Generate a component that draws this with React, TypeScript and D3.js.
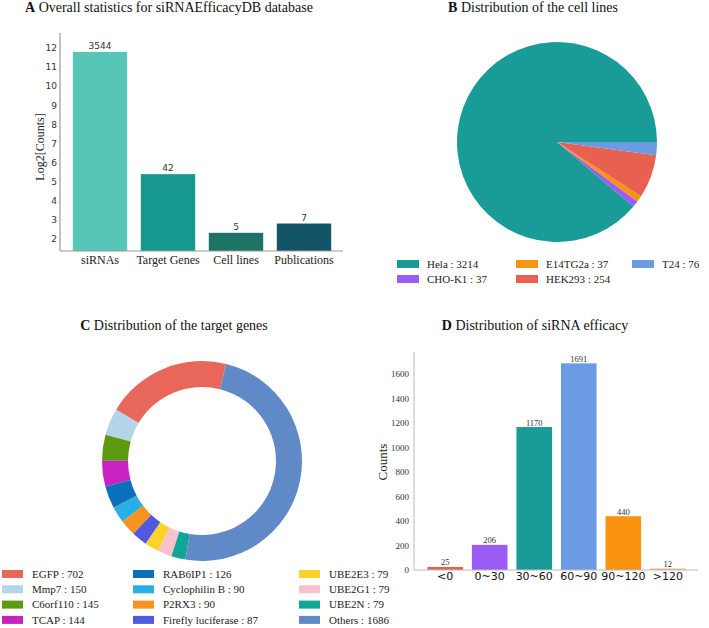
import React from 'react';
import * as d3 from 'd3';

// ---------- Data ----------
const statCategories = ['siRNAs', 'Target Genes', 'Cell lines', 'Publications'];
const statCounts = [3544, 42, 5, 7];
const statColors = ['#57c6b6', '#17998f', '#1d7365', '#145468'];
const statTicks = [2, 3, 4, 5, 6, 7, 8, 9, 10, 11, 12];

const cellLines = ['Hela', 'CHO-K1', 'E14TG2a', 'HEK293', 'T24'];
const cellCounts = [3214, 37, 37, 254, 76];
const cellColors = ['#199c98', '#9a5cf5', '#f99310', '#e8604f', '#6a9be3'];

const genes = ['EGFP', 'Mmp7', 'C6orf110', 'TCAP', 'RAB6IP1', 'Cyclophilin B', 'P2RX3', 'Firefly luciferase', 'UBE2E3', 'UBE2G1', 'UBE2N', 'Others'];
const geneCounts = [702, 150, 145, 144, 126, 90, 90, 87, 79, 79, 79, 1686];
const geneColors = ['#e8675a', '#b4d4e8', '#5c9a12', '#c822c0', '#0b6fbd', '#2aaee3', '#f7931e', '#5059e0', '#fdd22b', '#f8c2cc', '#10a596', '#6089c8'];

const efficacyBins = ['<0', '0~30', '30~60', '60~90', '90~120', '>120'];
const efficacyCounts = [25, 206, 1170, 1691, 440, 12];
const efficacyColors = ['#e8604f', '#9a5cf5', '#199c98', '#6a9be3', '#f99310', '#e8b56a'];
const efficacyTicks = [0, 200, 400, 600, 800, 1000, 1200, 1400, 1600];

const SERIF = '"Liberation Serif", "Times New Roman", serif';
const SANS = '"DejaVu Sans", sans-serif';

function Title({ x, y, letter, text, anchor = 'middle' }: any) {
  return (
    <text x={x} y={y} textAnchor={anchor} fontFamily={SERIF} fontSize={14} fill="#111">
      <tspan fontWeight="bold">{letter}</tspan> {text}
    </text>
  );
}

function PanelA() {
  const x = d3.scaleBand<string>().domain(statCategories).range([66, 338]).paddingInner(0.2).paddingOuter(0.1);
  const y = d3.scaleLinear().domain([1.37, 12.78]).range([251, 33]);
  return (
    <g>
      <Title x={25} y={12} letter="A" text="Overall statistics for siRNAEfficacyDB database" anchor="start" />
      {statCategories.map((c, i) => {
        const v = Math.log2(statCounts[i]);
        return (
          <g key={c}>
            <rect x={x(c)} y={y(v)} width={x.bandwidth()} height={y(1.37) - y(v)} fill={statColors[i]} />
            <text x={x(c)! + x.bandwidth() / 2} y={y(v) - 3} textAnchor="middle" fontFamily={SANS} fontSize={9} fill="#333">{statCounts[i]}</text>
            <text x={x(c)! + x.bandwidth() / 2} y={264} textAnchor="middle" fontFamily={SERIF} fontSize={12} fill="#222">{c}</text>
          </g>
        );
      })}
      {statTicks.map(t => (
        <text key={t} x={57} y={y(t) + 3.3} textAnchor="end" fontFamily={SANS} fontSize={9} fill="#333">{t}</text>
      ))}
      <line x1={60} x2={60} y1={33} y2={251} stroke="#999" strokeWidth={1.2} />
      <line x1={60} x2={343} y1={251} y2={251} stroke="#999" strokeWidth={1.2} />
      <text transform="translate(44,147) rotate(-90)" textAnchor="middle" fontFamily={SERIF} fontSize={12} fill="#222">Log2[Counts]</text>
    </g>
  );
}

function PanelB() {
  const pie = d3.pie<number>().sort(null).startAngle(Math.PI / 2).endAngle(Math.PI / 2 - 2 * Math.PI);
  const arcs = pie(cellCounts);
  const arc = d3.arc<d3.PieArcDatum<number>>().innerRadius(0).outerRadius(100);
  const colX = [397, 516, 632];
  return (
    <g>
      <Title x={533} y={12} letter="B" text="Distribution of the cell lines" />
      <g transform="translate(557,142)">
        {arcs.map((a, i) => <path key={i} d={arc(a)!} fill={cellColors[i]} />)}
      </g>
      {cellLines.map((c, i) => {
        const col = Math.floor(i / 2), row = i % 2;
        const cy = 264 + row * 15;
        return (
          <g key={c}>
            <rect x={colX[col]} y={cy - 4} width={22} height={8} fill={cellColors[i]} />
            <text x={colX[col] + 30} y={cy + 3.8} fontFamily={SERIF} fontSize={11} fill="#222">{c} : {cellCounts[i]}</text>
          </g>
        );
      })}
    </g>
  );
}

function PanelC() {
  const startMath = 76 * Math.PI / 180;
  const s = Math.PI / 2 - startMath;
  const pie = d3.pie<number>().sort(null).startAngle(s).endAngle(s - 2 * Math.PI);
  const arcs = pie(geneCounts);
  const arc = d3.arc<d3.PieArcDatum<number>>().innerRadius(74).outerRadius(100);
  const colX = [2, 133, 299];
  return (
    <g>
      <Title x={174} y={330} letter="C" text="Distribution of the target genes" />
      <g transform="translate(202,461)">
        {arcs.map((a, i) => <path key={i} d={arc(a)!} fill={geneColors[i]} />)}
      </g>
      {genes.map((g, i) => {
        const col = Math.floor(i / 4), row = i % 4;
        const cy = 574 + row * 15.3;
        return (
          <g key={g}>
            <rect x={colX[col]} y={cy - 4} width={21} height={8} fill={geneColors[i]} />
            <text x={colX[col] + 30} y={cy + 3.8} fontFamily={SERIF} fontSize={11} fill="#222">{g} : {geneCounts[i]}</text>
          </g>
        );
      })}
    </g>
  );
}

function PanelD() {
  const x = d3.scaleBand<string>().domain(efficacyBins).range([414, 699]).paddingInner(0.2).paddingOuter(0.3);
  const y = d3.scaleLinear().domain([0, 1784]).range([570, 352]);
  return (
    <g>
      <Title x={535} y={330} letter="D" text="Distribution of siRNA efficacy" />
      {efficacyBins.map((b, i) => (
        <g key={b}>
          <rect x={x(b)} y={y(efficacyCounts[i])} width={x.bandwidth()} height={y(0) - y(efficacyCounts[i])} fill={efficacyColors[i]} />
          <text x={x(b)! + x.bandwidth() / 2} y={y(efficacyCounts[i]) - 1.5} textAnchor="middle" fontFamily={SERIF} fontSize={8.5} fill="#333">{efficacyCounts[i]}</text>
          <text x={x(b)! + x.bandwidth() / 2} y={580} textAnchor="middle" fontFamily={SANS} fontSize={11} fill="#111">{b}</text>
        </g>
      ))}
      {efficacyTicks.map(t => (
        <text key={t} x={409} y={y(t) + 3} textAnchor="end" fontFamily={SERIF} fontSize={9} fill="#333">{t}</text>
      ))}
      <line x1={414} x2={414} y1={352} y2={570} stroke="#bbb" strokeWidth={1} />
      <line x1={414} x2={698} y1={570} y2={570} stroke="#bbb" strokeWidth={1} />
      <text transform="translate(387,462) rotate(-90)" textAnchor="middle" fontFamily={SERIF} fontSize={13} fill="#222">Counts</text>
    </g>
  );
}

export default function App() {
  return (
    <svg width={709} height={628} style={{ position: 'absolute', left: 0, top: 0, background: '#fff' }}>
      <rect width={709} height={628} fill="#fff" />
      <PanelA />
      <PanelB />
      <PanelC />
      <PanelD />
    </svg>
  );
}
